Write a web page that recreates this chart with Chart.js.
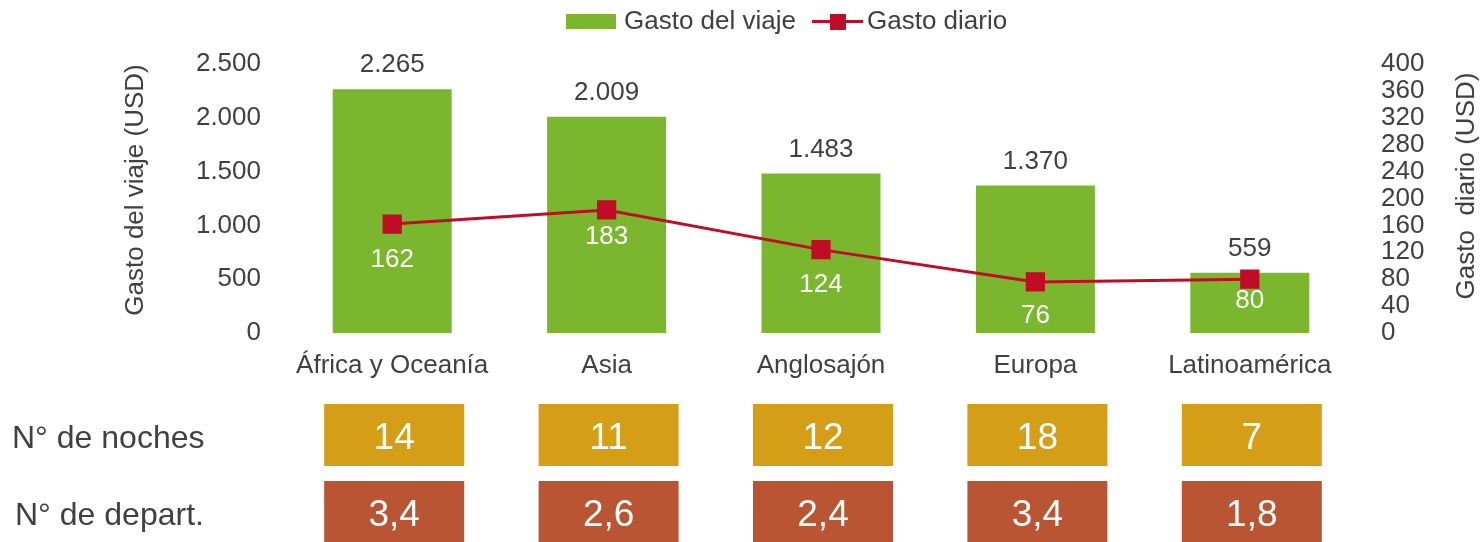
<!DOCTYPE html>
<html>
<head>
<meta charset="utf-8">
<script src="https://cdn.jsdelivr.net/npm/chart.js@4/dist/chart.umd.min.js"></script>
<style>
html,body{margin:0;padding:0;background:#fff;}
#wrap{width:1482px;height:542px;position:relative;}
</style>
</head>
<body>
<div id="wrap"><canvas id="c" width="1482" height="542"></canvas></div>
<script>
const categories = ['África y Oceanía', 'Asia', 'Anglosajón', 'Europa', 'Latinoamérica'];
const gastoViaje = [2265, 2009, 1483, 1370, 559];
const gastoDiario = [162, 183, 124, 76, 80];
const noches = [14, 11, 12, 18, 7];
const departamentos = [3.4, 2.6, 2.4, 3.4, 1.8];
const leftTicks = [0, 500, 1000, 1500, 2000, 2500];
const rightTicks = [0, 40, 80, 120, 160, 200, 240, 280, 320, 360, 400];

const TXT = '#404040';
const GREEN = '#7AB72F';
const RED = '#C00D25';
const GOLD = '#D49E17';
const RUST = '#B95533';
const FONT = 'Liberation Sans, Arial, sans-serif';
const FS = 26;

function fmtThousands(v){ return String(v).replace(/\B(?=(\d{3})+(?!\d))/g, '.'); }
function fmtDec(v){ return v.toFixed(1).replace('.', ','); }

const lineLabelOffsets = [36, 27, 35, 34, 22];

const overlay = {
  id: 'overlay',
  afterDatasetsDraw(chart){
    const ctx = chart.ctx;
    const x = chart.scales.x;
    ctx.save();
    ctx.textAlign = 'center';
    ctx.textBaseline = 'middle';
    ctx.font = FS + 'px ' + FONT;
    // bar value labels (dataset 1 = bars)
    const mBar = chart.getDatasetMeta(1);
    ctx.fillStyle = TXT;
    mBar.data.forEach((el, i) => {
      ctx.fillText(fmtThousands(gastoViaje[i]), el.x, el.y - 24);
    });
    // line value labels (dataset 0 = line)
    const mLine = chart.getDatasetMeta(0);
    ctx.fillStyle = '#FFFFFF';
    mLine.data.forEach((el, i) => {
      ctx.fillText(String(gastoDiario[i]), el.x, el.y + lineLabelOffsets[i]);
    });
    // axis titles (both read bottom-to-top)
    [['Gasto del viaje (USD)', 136, 190], ['Gasto  diario (USD)', 1467, 186]].forEach(t => {
      ctx.save();
      ctx.translate(t[1], t[2]);
      ctx.rotate(-Math.PI / 2);
      ctx.fillStyle = TXT;
      ctx.fillText(t[0], 0, 0);
      ctx.restore();
    });
    // table rows
    const catW = x.getPixelForValue(1) - x.getPixelForValue(0);
    const boxW = catW * 0.653;
    const rows = [
      {label: 'N° de noches', vals: noches.map(String), color: GOLD, top: 404, h: 62, lx: 12},
      {label: 'N° de depart.', vals: departamentos.map(fmtDec), color: RUST, top: 481, h: 62, lx: 15}
    ];
    rows.forEach(r => {
      ctx.font = '32px ' + FONT;
      ctx.fillStyle = TXT;
      ctx.textAlign = 'left';
      ctx.fillText(r.label, r.lx, r.top + r.h / 2 + 4);
      r.vals.forEach((v, i) => {
        const cx = x.getPixelForValue(i) + 2;
        ctx.fillStyle = r.color;
        ctx.fillRect(cx - boxW / 2, r.top, boxW, r.h);
        ctx.fillStyle = '#FFFFFF';
        ctx.font = '37px ' + FONT;
        ctx.textAlign = 'center';
        ctx.fillText(v, cx, r.top + r.h / 2 + 4);
      });
    });
    // legend
    ctx.textAlign = 'left';
    ctx.font = FS + 'px ' + FONT;
    ctx.fillStyle = GREEN;
    ctx.fillRect(566, 14, 50, 15);
    ctx.fillStyle = TXT;
    ctx.fillText('Gasto del viaje', 624, 22);
    ctx.strokeStyle = RED;
    ctx.lineWidth = 3;
    ctx.beginPath(); ctx.moveTo(812, 21.5); ctx.lineTo(863, 21.5); ctx.stroke();
    ctx.fillStyle = RED;
    ctx.fillRect(830, 14, 16, 16);
    ctx.fillStyle = TXT;
    ctx.fillText('Gasto diario', 867, 22);
    ctx.restore();
  }
};

new Chart(document.getElementById('c'), {
  type: 'bar',
  data: {
    labels: categories,
    datasets: [
      {
        type: 'line',
        label: 'Gasto diario',
        data: gastoDiario,
        yAxisID: 'y1',
        borderColor: RED,
        backgroundColor: RED,
        borderWidth: 3,
        pointStyle: 'rect',
        pointRadius: 11.5,
        pointHoverRadius: 11.5,
        order: 0
      },
      {
        type: 'bar',
        label: 'Gasto del viaje',
        data: gastoViaje,
        yAxisID: 'y',
        backgroundColor: GREEN,
        barPercentage: 0.555,
        categoryPercentage: 1,
        order: 1
      }
    ]
  },
  options: {
    responsive: false,
    animation: false,
    events: [],
    layout: {padding: {left: 0, top: 64, right: 0, bottom: 0}},
    plugins: {legend: {display: false}, tooltip: {enabled: false}},
    scales: {
      x: {
        grid: {display: false},
        border: {display: false},
        ticks: {color: TXT, font: {size: FS, family: FONT}, padding: 9, maxRotation: 0, autoSkip: false},
        afterFit(s){ s.height = 209; }
      },
      y: {
        position: 'left',
        min: 0, max: 2500,
        afterBuildTicks(s){ s.ticks = leftTicks.map(v => ({value: v})); },
        grid: {display: false},
        border: {display: false},
        ticks: {color: TXT, font: {size: FS, family: FONT}, padding: 16, callback: v => fmtThousands(v)},
        title: {display: false},
        afterFit(s){ s.width = 285; }
      },
      y1: {
        position: 'right',
        min: 0, max: 400,
        afterBuildTicks(s){ s.ticks = rightTicks.map(v => ({value: v})); },
        grid: {display: false},
        border: {display: false},
        ticks: {color: TXT, font: {size: FS, family: FONT}, padding: 16, autoSkip: false},
        title: {display: false},
        afterFit(s){ s.width = 1482 - 1357; }
      }
    }
  },
  plugins: [overlay]
});
</script>
</body>
</html>
